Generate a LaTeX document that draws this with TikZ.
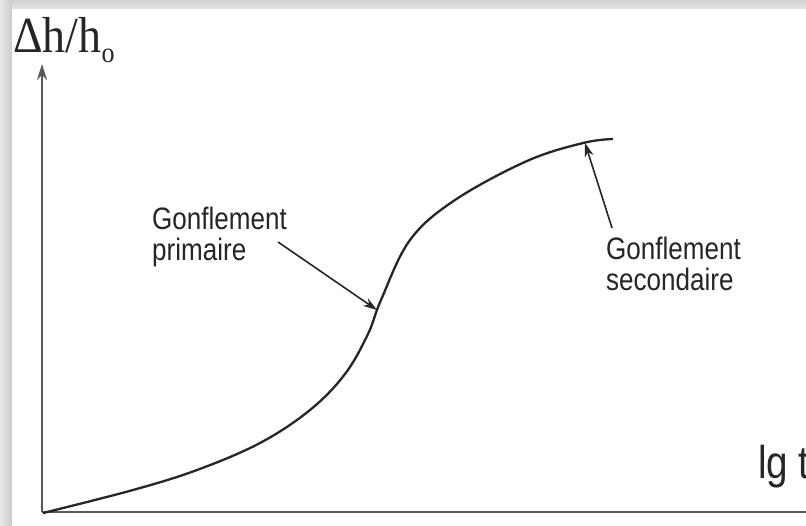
\documentclass[tikz,border=0pt]{standalone}
\usepackage{fontspec}
\setmainfont{Liberation Serif}
\newfontfamily\narrowsans[FakeStretch=0.84]{Liberation Sans}
\usetikzlibrary{arrows.meta}
\begin{document}
\begin{tikzpicture}[x=1pt,y=-1pt,
  axisline/.style={line width=2.4pt,draw=black!65},
  curveline/.style={line width=2.3pt,draw=black!85,line join=round},
  pointer/.style={line width=1.6pt,draw=black!85,-{Stealth[length=14pt,width=9pt]}},
  note/.style={font=\narrowsans\fontsize{31}{34}\selectfont,text=black!85,align=left,inner sep=0pt}]
  \useasboundingbox (0,0) rectangle (806,525);
  % frame with soft shadow bands
  \fill[gray!30] (0,0) rectangle (806,525);
  \shade[left color=gray!18,right color=gray!40] (0,0) rectangle (12,525);
  \shade[top color=gray!35,bottom color=gray!22] (12,0) rectangle (806,9);
  \fill[white] (12,9) rectangle (806,525);

  % axes
  \coordinate (O) at (42,512);
  \coordinate (ytop) at (42,64);
  \coordinate (xend) at (806,512);
  \draw[axisline] (O) -- (xend);
  \draw[axisline,-{Stealth[length=16pt,width=10pt]}] (O) -- (ytop);

  % axis labels
  \node[anchor=base west,inner sep=0pt,font=\fontsize{46}{46}\selectfont,text=black!85,yscale=1.1] (ylab) at (13,52)
    {Δh/h\raisebox{-0.2em}{\fontsize{26}{26}\selectfont o}};
  \node[anchor=base west,inner sep=0pt,font=\narrowsans\fontsize{46}{46}\selectfont,text=black!85] (xlab) at (758,478) {lg t};

  % swelling curve
  \draw[curveline] plot[smooth,tension=0.6] coordinates {
    (43,513) (133,490) (197,470) (260,443) (310,410) (345,374)
    (368,334) (381,300) (410,240) (455,200) (527,161)
    (583,143) (613,139)};
  \coordinate (pprim) at (377,310);
  \coordinate (psec) at (585,143);

  % annotations
  \node[note,anchor=north west] (prim) at (152,207) {Gonflement\\[-3pt]primaire};
  \node[note,anchor=north west] (sec) at (606,237) {Gonflement\\[-3pt]secondaire};
  \coordinate (primstart) at (278,242);
  \coordinate (secstart) at (612,228);
  \draw[pointer] (primstart) -- (pprim);
  \draw[pointer] (secstart) -- (psec);
\end{tikzpicture}
\end{document}
